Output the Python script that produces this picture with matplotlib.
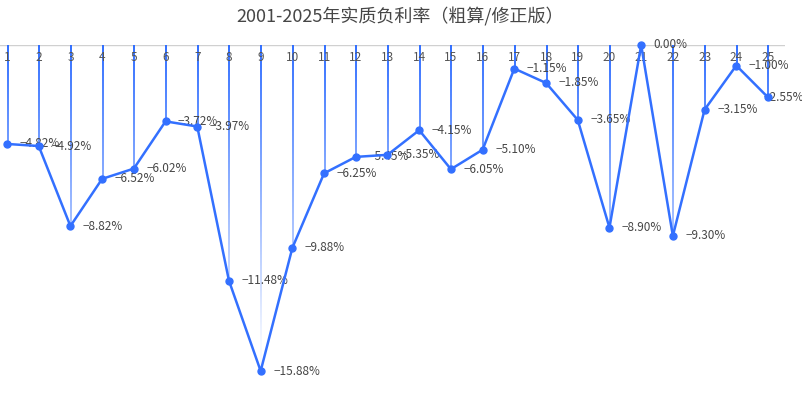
import numpy as np
import matplotlib
matplotlib.use("Agg")
import matplotlib.pyplot as plt
from matplotlib.colors import to_rgba

plt.rcParams['font.family'] = ['Noto Sans CJK SC', 'DejaVu Sans']

# 数据
years = list(range(1, 26))
rates = [-4.82, -4.92, -8.82, -6.52, -6.02, -3.72, -3.97, -11.48, -15.88, -9.88,
         -6.25, -5.45, -5.35, -4.15, -6.05, -5.10, -1.15, -1.85, -3.65, -8.90,
         0.00, -9.30, -3.15, -1.00, -2.55]
title = "2001-2025年实质负利率（粗算/修正版）"

blue = "#3370ff"
W, H = 803, 403

fig = plt.figure(figsize=(W / 100, H / 100), dpi=100)
# 像素位置: 轴线 y=45, 底部 y=390, 左 0, 右 785
ax = fig.add_axes([0, 1 - 390 / H, 785 / W, (390 - 45) / H])
px = 31.7
ax.set_xlim(1 - 7 / px, 25 + 17 / px)
ymin = -(390 - 45) / 20.53
ax.set_ylim(ymin, 0)

# 渐变竖线（用图像画，1 像素宽）
base = np.array(to_rgba(blue))
w = 1.0 / px
for x, y in zip(years, rates):
    if y >= 0:
        continue
    ys = np.linspace(0, y, 200)
    alpha = np.clip(1 - 1.05 * np.abs(ys) / 16.0, 0.04, 1)
    img = np.zeros((len(ys), 1, 4))
    img[:, 0, :3] = base[:3]
    img[:, 0, 3] = alpha
    ax.imshow(img, extent=(x - w / 2, x + w / 2, y, 0), origin='upper',
              aspect='auto', interpolation='bilinear', zorder=1)

ax.set_xlim(1 - 7 / px, 25 + 17 / px)
ax.set_ylim(ymin, 0)

ax.plot(years, rates, color=blue, lw=1.8, marker='o', ms=5, zorder=3, clip_on=False)

for i, (x, y) in enumerate(zip(years, rates)):
    dx = 9 if i < len(years) - 1 else -3
    ax.annotate(f"{y:.2f}%".replace("-", "−"), (x, y), xytext=(dx, 0), textcoords='offset points',
                va='center', ha='left', fontsize=8.5, color='#464646', zorder=2)

# 顶部坐标轴
ax.axhline(0, color='#d0d0d0', lw=1, zorder=0.5)
for x in years:
    ax.text(x, -0.62, str(x), ha='center', va='center', fontsize=8.5, color='#555555', zorder=2)

for s in ax.spines.values():
    s.set_visible(False)
ax.set_xticks([])
ax.set_yticks([])

fig.text(400 / W, 1 - 17 / H, title, ha='center', va='center', fontsize=13, color='#464646')

fig.savefig("out.png", dpi=100)
